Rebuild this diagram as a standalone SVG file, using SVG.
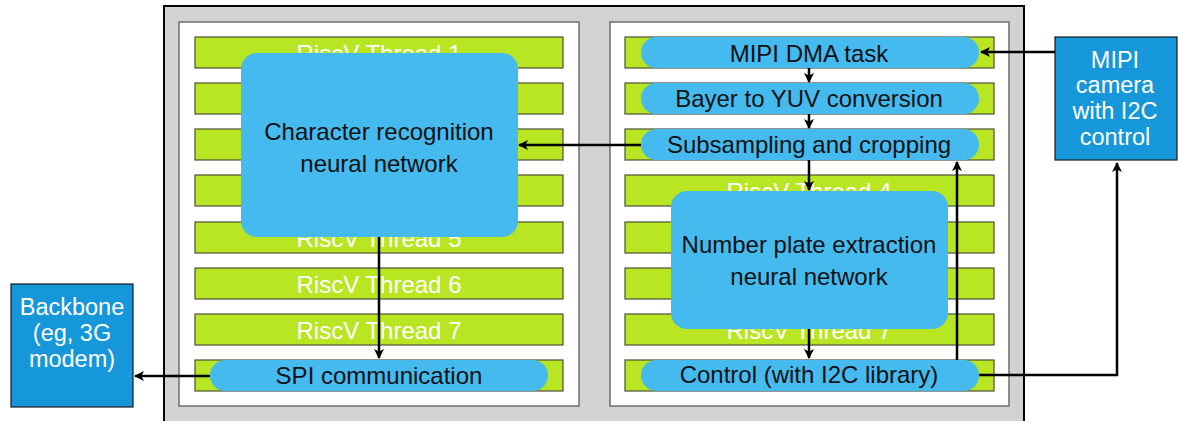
<svg xmlns="http://www.w3.org/2000/svg" width="1178" height="421" viewBox="0 0 1178 421">
<defs>
<style>
.outer{fill:#d1d2d4;stroke:#000;stroke-width:2}
.panel{fill:#fff;stroke:#6d6e70;stroke-width:1.5}
.bar{fill:#b8e622;stroke:#4d4f3a;stroke-width:1.2}
.bt{font-family:"Liberation Sans",Arial,sans-serif;font-size:24px;fill:#fff;text-anchor:middle}
.blue{fill:#44baef}
.dt{font-family:"Liberation Sans",Arial,sans-serif;font-size:24px;fill:#111;text-anchor:middle}
.ext{fill:#1597d9;stroke:#1a1a1a;stroke-width:1.2}
.wt{font-family:"Liberation Sans",Arial,sans-serif;font-size:23.5px;fill:#fff;text-anchor:middle}
.conn{fill:none;stroke:#000;stroke-width:2.5}
</style>
<marker id="arr" viewBox="0 0 10 10" refX="9" refY="5" markerWidth="4" markerHeight="4" orient="auto" markerUnits="strokeWidth">
<path d="M0,0 L10,5 L0,10 L2.5,5 z" fill="#000"/>
</marker>
</defs>
<rect x="0" y="0" width="1178" height="421" fill="#fff"/>
<g id="chip">
<rect class="outer" x="164" y="6" width="860" height="430"/>
<rect class="panel" x="179" y="22" width="400" height="384"/>
<rect class="panel" x="610" y="22" width="399" height="384"/>
</g>
<g id="left-threads">
<rect class="bar" x="195" y="37" width="368" height="31"/>
<rect class="bar" x="195" y="83" width="368" height="31"/>
<rect class="bar" x="195" y="129" width="368" height="31"/>
<rect class="bar" x="195" y="175" width="368" height="31"/>
<rect class="bar" x="195" y="222" width="368" height="31"/>
<rect class="bar" x="195" y="268" width="368" height="31"/>
<rect class="bar" x="195" y="314" width="368" height="31"/>
<rect class="bar" x="195" y="360" width="368" height="31"/>
<text class="bt" x="379" y="62">RiscV Thread 1</text>
<text class="bt" x="379" y="247">RiscV Thread 5</text>
<text class="bt" x="379" y="293">RiscV Thread 6</text>
<text class="bt" x="379" y="339">RiscV Thread 7</text>
</g>
<g id="right-threads">
<rect class="bar" x="625" y="37" width="369" height="31"/>
<rect class="bar" x="625" y="83" width="369" height="31"/>
<rect class="bar" x="625" y="129" width="369" height="31"/>
<rect class="bar" x="625" y="175" width="369" height="31"/>
<rect class="bar" x="625" y="222" width="369" height="31"/>
<rect class="bar" x="625" y="268" width="369" height="31"/>
<rect class="bar" x="625" y="314" width="369" height="31"/>
<rect class="bar" x="625" y="360" width="369" height="31"/>
<text class="bt" x="809" y="200">RiscV Thread 4</text>
<text class="bt" x="809" y="339">RiscV Thread 7</text>
</g>
<g id="char-rec">
<rect class="blue" x="241" y="53" width="277" height="184" rx="16"/>
<text class="dt" x="379" y="140">Character recognition</text>
<text class="dt" x="379" y="172">neural network</text>
</g>
<g id="plate">
<rect class="blue" x="671" y="191" width="277" height="138" rx="16"/>
<text class="dt" x="809" y="253">Number plate extraction</text>
<text class="dt" x="809" y="285">neural network</text>
</g>
<g id="mipi-dma">
<rect class="blue" x="641" y="37" width="338" height="31" rx="15.5"/>
<text class="dt" x="809" y="62">MIPI DMA task</text>
</g>
<g id="bayer">
<rect class="blue" x="641" y="83" width="338" height="31" rx="15.5"/>
<text class="dt" x="809" y="107">Bayer to YUV conversion</text>
</g>
<g id="subsampling">
<rect class="blue" x="641" y="129" width="338" height="31" rx="15.5"/>
<text class="dt" x="809" y="153">Subsampling and cropping</text>
</g>
<g id="control">
<rect class="blue" x="641" y="360" width="338" height="31" rx="15.5"/>
<text class="dt" x="809" y="383">Control (with I2C library)</text>
</g>
<g id="spi">
<rect class="blue" x="210" y="360" width="338" height="31" rx="15.5"/>
<text class="dt" x="379" y="384">SPI communication</text>
</g>
<g id="camera">
<rect class="ext" x="1055" y="37" width="122" height="123"/>
<text class="wt" x="1115" y="68">MIPI</text>
<text class="wt" x="1115" y="93">camera</text>
<text class="wt" x="1115" y="119">with I2C</text>
<text class="wt" x="1115" y="145">control</text>
</g>
<g id="backbone">
<rect class="ext" x="11" y="284" width="122" height="123"/>
<text class="wt" x="72" y="315">Backbone</text>
<text class="wt" x="72" y="341">(eg, 3G</text>
<text class="wt" x="72" y="367">modem)</text>
</g>
<g id="connectors">
<path class="conn" d="M1055,52 H981" marker-end="url(#arr)"/>
<path class="conn" d="M809,68 V82" marker-end="url(#arr)"/>
<path class="conn" d="M809,114 V128" marker-end="url(#arr)"/>
<path class="conn" d="M809,160 V190" marker-end="url(#arr)"/>
<path class="conn" d="M641,145 H519" marker-end="url(#arr)"/>
<path class="conn" d="M379,237 V358" marker-end="url(#arr)"/>
<path class="conn" d="M809,329 V358" marker-end="url(#arr)"/>
<path class="conn" d="M957,360 V162" marker-end="url(#arr)"/>
<path class="conn" d="M979,375 H1117 V163" marker-end="url(#arr)"/>
<path class="conn" d="M210,376 H135" marker-end="url(#arr)"/>
</g>
</svg>
